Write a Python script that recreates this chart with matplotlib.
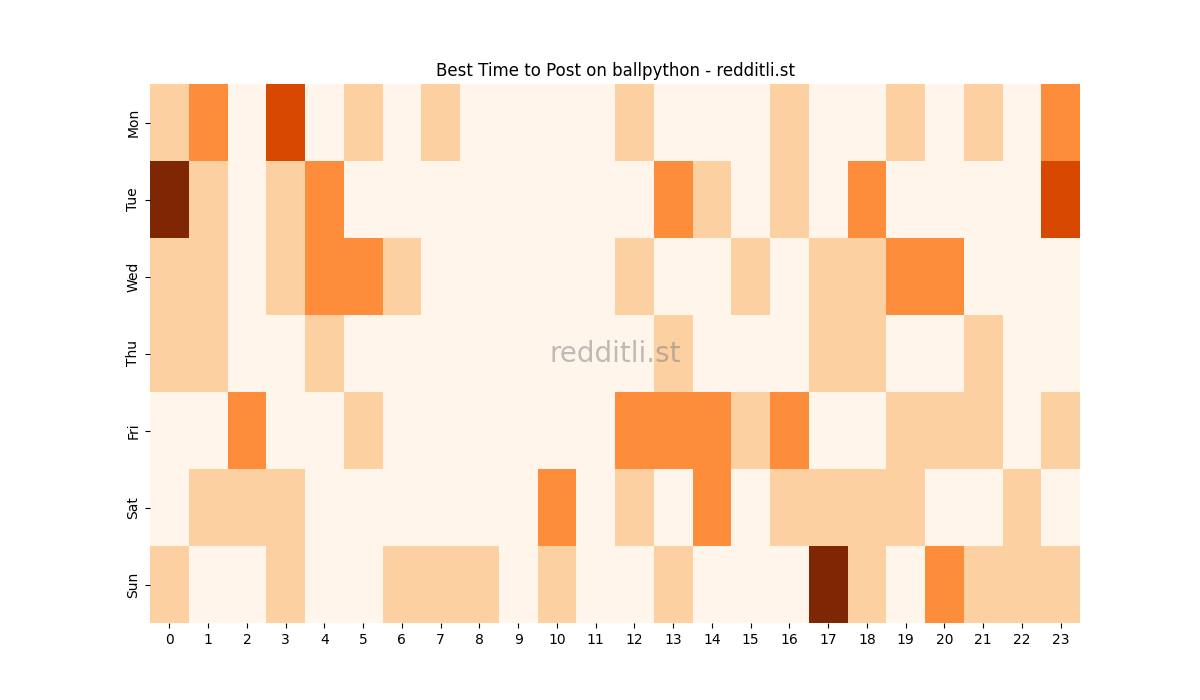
import matplotlib
matplotlib.use("Agg")
import matplotlib.pyplot as plt
import numpy as np

days = ["Mon", "Tue", "Wed", "Thu", "Fri", "Sat", "Sun"]
hours = list(range(24))

# posting score per hour (0 = worst, 4 = best)
mon = [1, 2, 0, 3, 0, 1, 0, 1, 0, 0, 0, 0, 1, 0, 0, 0, 1, 0, 0, 1, 0, 1, 0, 2]
tue = [4, 1, 0, 1, 2, 0, 0, 0, 0, 0, 0, 0, 0, 2, 1, 0, 1, 0, 2, 0, 0, 0, 0, 3]
wed = [1, 1, 0, 1, 2, 2, 1, 0, 0, 0, 0, 0, 1, 0, 0, 1, 0, 1, 1, 2, 2, 0, 0, 0]
thu = [1, 1, 0, 0, 1, 0, 0, 0, 0, 0, 0, 0, 0, 1, 0, 0, 0, 1, 1, 0, 0, 1, 0, 0]
fri = [0, 0, 2, 0, 0, 1, 0, 0, 0, 0, 0, 0, 2, 2, 2, 1, 2, 0, 0, 1, 1, 1, 0, 1]
sat = [0, 1, 1, 1, 0, 0, 0, 0, 0, 0, 2, 0, 1, 0, 2, 0, 1, 1, 1, 1, 0, 0, 1, 0]
sun = [1, 0, 0, 1, 0, 0, 1, 1, 1, 0, 1, 0, 0, 1, 0, 0, 0, 4, 1, 0, 2, 1, 1, 1]

grid = np.array([mon, tue, wed, thu, fri, sat, sun])

fig, ax = plt.subplots(figsize=(12, 7), dpi=100)
ax.pcolormesh(grid, cmap="Oranges", vmin=0, vmax=4)
ax.set_xlim(0, len(hours))
ax.set_ylim(len(days), 0)

ax.set_xticks(np.arange(len(hours)) + 0.5)
ax.set_xticklabels(hours)
ax.set_yticks(np.arange(len(days)) + 0.5)
ax.set_yticklabels(days, rotation=90, va="center")
for s in ax.spines.values():
    s.set_visible(False)

ax.set_title("Best Time to Post on ballpython - redditli.st")
ax.text(0.5, 0.5, "redditli.st", transform=ax.transAxes, fontsize=20,
        color="grey", alpha=0.5, ha="center", va="center")

plt.savefig("out.png")
